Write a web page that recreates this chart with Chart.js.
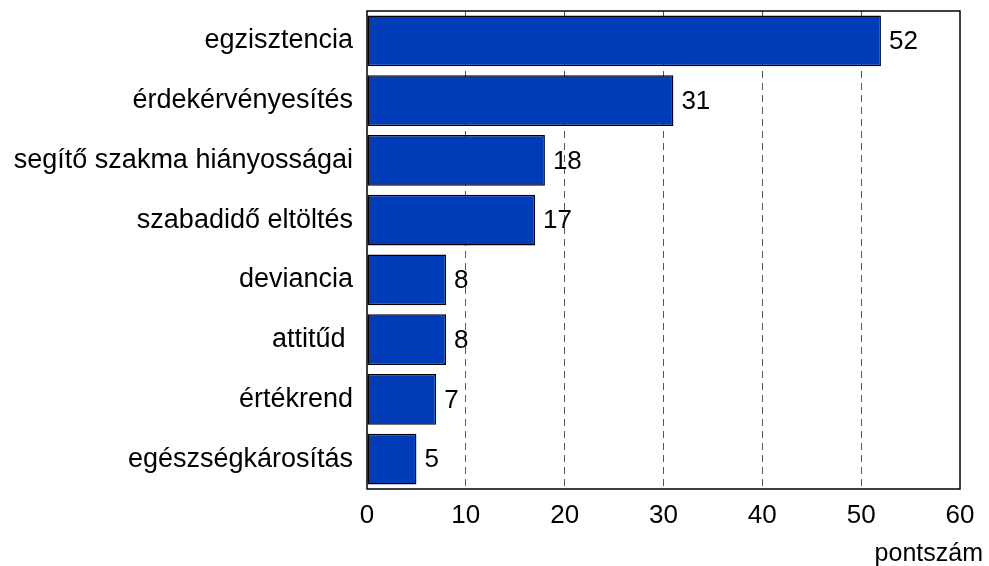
<!DOCTYPE html>
<html><head><meta charset="utf-8">
<script src="https://cdn.jsdelivr.net/npm/chart.js@4"></script>
<style>html,body{margin:0;padding:0;background:#fff}#wrap{width:989px;height:566px}</style>
</head><body><div id="wrap"><canvas id="c" width="989" height="566"></canvas></div>
<script>
const categories = ["egzisztencia","érdekérvényesítés","segítő szakma hiányosságai","szabadidő eltöltés","deviancia","attitűd ","értékrend","egészségkárosítás"];
const values = [52,31,18,17,8,8,7,5];
const xTicks = [0,10,20,30,40,50,60];
const axisTitle = "pontszám";

const FONT = "'Liberation Sans', Arial, sans-serif";

const valueLabels = {
  id:'valueLabels',
  afterDatasetsDraw(chart){
    const ctx = chart.ctx;
    const meta = chart.getDatasetMeta(0);
    ctx.save();
    ctx.font = "26px " + FONT;
    ctx.fillStyle = "#000";
    ctx.textAlign = "left";
    ctx.textBaseline = "middle";
    meta.data.forEach((bar,i)=>{
      ctx.fillText(String(values[i]), bar.x + 8, bar.y + 1);
    });
    ctx.restore();
  }
};
const frame = {
  id:'frame',
  afterDraw(chart){
    const a = chart.chartArea, ctx = chart.ctx;
    ctx.save();
    ctx.strokeStyle = "#000";
    ctx.lineWidth = 1.5;
    ctx.strokeRect(a.left, a.top, a.right - a.left, a.bottom - a.top);
    ctx.font = "25px " + FONT;
    ctx.fillStyle = "#000";
    ctx.textAlign = "right";
    ctx.textBaseline = "middle";
    ctx.fillText(axisTitle, chart.width - 6, a.bottom + 65);
    ctx.restore();
  }
};

new Chart(document.getElementById('c'), {
  type:'bar',
  data:{labels:categories, datasets:[{data:values, backgroundColor:'#003cb8', borderColor:'#000', borderWidth:1.5, borderSkipped:false, categoryPercentage:0.85, barPercentage:1.0}]},
  options:{
    indexAxis:'y', responsive:false, animation:false, devicePixelRatio:1,
    layout:{padding:{left:0,right:29,top:11,bottom:0}},
    plugins:{legend:{display:false}, tooltip:{enabled:false}},
    scales:{
      x:{min:0,max:60,
        afterBuildTicks(s){ s.ticks = xTicks.map(v=>({value:v})); },
        afterFit(s){ s.height = 77; s.paddingLeft = 0; s.paddingRight = 0; },
        grid:{drawTicks:false, tickLength:0, color:(c)=> (c.tick && (c.tick.value===0||c.tick.value===60)) ? 'rgba(0,0,0,0)' : '#555', lineWidth:1},
        border:{display:false, dash:[7,5]},
        ticks:{padding:11, color:'#000', font:{family:FONT,size:26}},
        title:{display:false}
      },
      y:{
        afterFit(s){ s.width = 367; s.paddingTop = 0; s.paddingBottom = 0; },
        grid:{display:false, drawTicks:false},
        border:{display:false},
        ticks:{padding:14, color:'#000', font:{family:FONT,size:27}}
      }
    }
  },
  plugins:[valueLabels, frame]
});
</script></body></html>
